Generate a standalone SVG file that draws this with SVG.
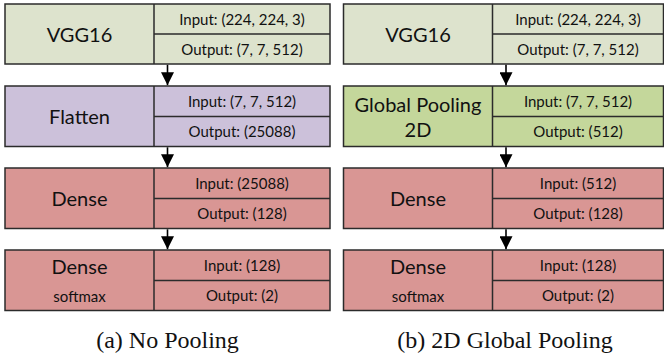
<svg xmlns="http://www.w3.org/2000/svg" width="664" height="356" viewBox="0 0 664 356">
<defs>
<style>
.box{stroke:#2b2b2b;stroke-width:1.5}
.div{stroke:#2b2b2b;stroke-width:1.5;fill:none}
.vgg{fill:#dde3cd}
.flat{fill:#ccc1da}
.gp{fill:#c4d79b}
.dense{fill:#d99694}
.main{font-family:Lato,"Open Sans",sans-serif;font-size:20px;fill:#111;text-anchor:middle}
.io{font-family:Lato,"Open Sans",sans-serif;font-size:15px;fill:#111;text-anchor:middle}
.sm{font-family:Lato,"Open Sans",sans-serif;font-size:15px;fill:#111;text-anchor:middle}
.cap{font-family:"Liberation Serif","Times New Roman",serif;font-size:24px;fill:#111;text-anchor:middle}
.arr{stroke:#000;stroke-width:1.6;fill:none}
</style>
<marker id="ah" markerWidth="13" markerHeight="13" viewBox="0 0 13 13" refX="13" refY="6.5" orient="auto" markerUnits="userSpaceOnUse">
<path d="M0,0 L13,6.5 L0,13 Z" fill="#000"/>
</marker>
</defs>

<!-- Panel (a) -->
<g id="a-vgg16">
<rect class="box vgg" x="5" y="4" width="325" height="60"/>
<path class="div" d="M154,4 V64 M154,34 H330"/>
<text class="main" x="79.5" y="41.5">VGG16</text>
<text class="io" x="242" y="24.5">Input: (224, 224, 3)</text>
<text class="io" x="242" y="54.5">Output: (7, 7, 512)</text>
</g>
<g id="a-flatten">
<rect class="box flat" x="5" y="86" width="325" height="60.5"/>
<path class="div" d="M154,86 V146.5 M154,116.5 H330"/>
<text class="main" x="79.5" y="124">Flatten</text>
<text class="io" x="242" y="107">Input: (7, 7, 512)</text>
<text class="io" x="242" y="137">Output: (25088)</text>
</g>
<g id="a-dense1">
<rect class="box dense" x="5" y="168" width="325" height="60.5"/>
<path class="div" d="M154,168 V228.5 M154,198.5 H330"/>
<text class="main" x="79.5" y="206">Dense</text>
<text class="io" x="242" y="189">Input: (25088)</text>
<text class="io" x="242" y="219">Output: (128)</text>
</g>
<g id="a-dense2">
<rect class="box dense" x="5" y="250" width="325" height="60.5"/>
<path class="div" d="M154,250 V310.5 M154,280.5 H330"/>
<text class="main" x="79.5" y="274">Dense</text>
<text class="sm" x="79.5" y="301.5">softmax</text>
<text class="io" x="242" y="271">Input: (128)</text>
<text class="io" x="242" y="301">Output: (2)</text>
</g>
<text class="cap" x="167.5" y="347.5">(a) No Pooling</text>

<!-- Panel (b) -->
<g id="b-vgg16">
<rect class="box vgg" x="343.5" y="4" width="320" height="60"/>
<path class="div" d="M492.5,4 V64 M492.5,34 H663.5"/>
<text class="main" x="418" y="41.5">VGG16</text>
<text class="io" x="578" y="24.5">Input: (224, 224, 3)</text>
<text class="io" x="578" y="54.5">Output: (7, 7, 512)</text>
</g>
<g id="b-gpool">
<rect class="box gp" x="343.5" y="86" width="320" height="60.5"/>
<path class="div" d="M492.5,86 V146.5 M492.5,116.5 H663.5"/>
<text class="main" x="418" y="112">Global Pooling</text>
<text class="main" x="418" y="136.5">2D</text>
<text class="io" x="578" y="107">Input: (7, 7, 512)</text>
<text class="io" x="578" y="137">Output: (512)</text>
</g>
<g id="b-dense1">
<rect class="box dense" x="343.5" y="168" width="320" height="60.5"/>
<path class="div" d="M492.5,168 V228.5 M492.5,198.5 H663.5"/>
<text class="main" x="418" y="206">Dense</text>
<text class="io" x="578" y="189">Input: (512)</text>
<text class="io" x="578" y="219">Output: (128)</text>
</g>
<g id="b-dense2">
<rect class="box dense" x="343.5" y="250" width="320" height="60.5"/>
<path class="div" d="M492.5,250 V310.5 M492.5,280.5 H663.5"/>
<text class="main" x="418" y="274">Dense</text>
<text class="sm" x="418" y="301.5">softmax</text>
<text class="io" x="578" y="271">Input: (128)</text>
<text class="io" x="578" y="301">Output: (2)</text>
</g>
<text class="cap" x="505" y="347.5">(b) 2D Global Pooling</text>

<g id="connectors">
<path class="arr" marker-end="url(#ah)" d="M167.5,64.8 V85.2"/>
<path class="arr" marker-end="url(#ah)" d="M167.5,147.3 V167.2"/>
<path class="arr" marker-end="url(#ah)" d="M167.5,229.3 V249.2"/>
<path class="arr" marker-end="url(#ah)" d="M506,64.8 V85.2"/>
<path class="arr" marker-end="url(#ah)" d="M506,147.3 V167.2"/>
<path class="arr" marker-end="url(#ah)" d="M506,229.3 V249.2"/>
</g>
</svg>
